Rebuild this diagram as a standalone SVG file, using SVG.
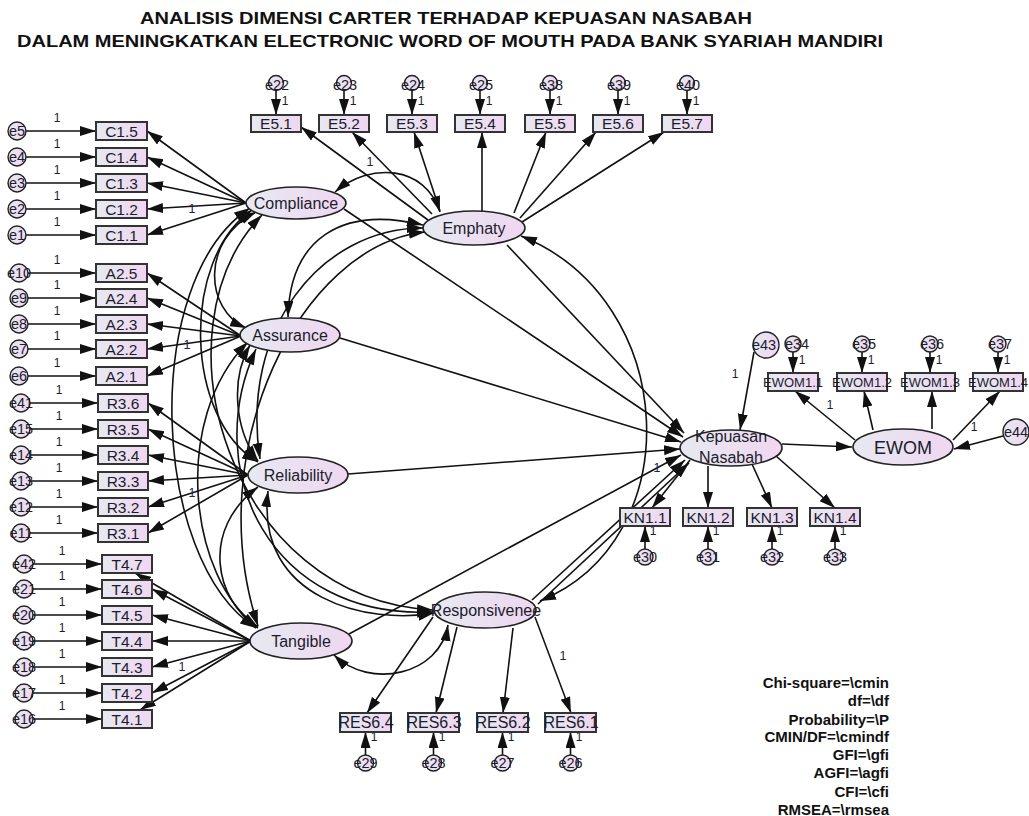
<svg xmlns="http://www.w3.org/2000/svg" width="1029" height="816" viewBox="0 0 1029 816">
<defs>
<linearGradient id="g" x1="0" y1="0" x2="1" y2="0"><stop offset="0" stop-color="#e6e9f1"/><stop offset="1" stop-color="#efd7f0"/></linearGradient>
<marker id="a" markerUnits="userSpaceOnUse" markerWidth="17" markerHeight="11" refX="16" refY="5" orient="auto-start-reverse"><path d="M0,0 L16,5 L0,10 z" fill="#111"/></marker>
</defs>
<style>
.ind{fill:url(#g);stroke:#333;stroke-width:2}
.lat{fill:url(#g);stroke:#222;stroke-width:1.6}
.err{fill:url(#g);stroke:#222;stroke-width:1.4}
.t{font-family:"Liberation Sans",Arial,sans-serif;fill:#1c1c2c;text-anchor:middle}
.it{font-size:15.5px}
.lt{font-size:16px}
.et{font-size:14.5px}
.one{font-size:12px}
.w1{font-size:12.5px;fill:#222244}
.ln{stroke:#111;stroke-width:1.6;fill:none;marker-end:url(#a)}
.cv{stroke:#111;stroke-width:1.6;fill:none;marker-start:url(#a);marker-end:url(#a)}
.ttl{font-family:"Liberation Sans",Arial,sans-serif;font-weight:bold;font-size:17px;text-anchor:middle;fill:#111}
.fit{font-family:"Liberation Sans",Arial,sans-serif;font-weight:bold;font-size:15px;text-anchor:end;fill:#111}
.ew{font-size:13px}
</style>
<rect width="1029" height="816" fill="#fff"/>
<text class="ttl" x="446" y="24" textLength="612" lengthAdjust="spacingAndGlyphs">ANALISIS DIMENSI CARTER TERHADAP KEPUASAN NASABAH</text>
<text class="ttl" x="450" y="47" textLength="866" lengthAdjust="spacingAndGlyphs">DALAM MENINGKATKAN ELECTRONIC WORD OF MOUTH PADA BANK SYARIAH MANDIRI</text>

<g id="connectors">
<path class="ln" d="M25.5,131 L96,131"/><path class="ln" d="M25.5,157 L96,157"/><path class="ln" d="M25.5,183 L96,183"/><path class="ln" d="M25.5,209 L96,209"/><path class="ln" d="M25.5,235 L96,235"/>
<path class="ln" d="M27.5,273 L96,273"/><path class="ln" d="M27.5,298 L96,298"/><path class="ln" d="M27.5,324 L96,324"/><path class="ln" d="M27.5,349 L96,349"/><path class="ln" d="M27.5,376 L96,376"/>
<path class="ln" d="M29.5,403 L98,403"/><path class="ln" d="M29.5,429 L98,429"/><path class="ln" d="M29.5,455 L98,455"/><path class="ln" d="M29.5,481 L98,481"/><path class="ln" d="M29.5,507 L98,507"/><path class="ln" d="M29.5,533 L98,533"/>
<path class="ln" d="M32.5,564 L102,564"/><path class="ln" d="M32.5,589 L102,589"/><path class="ln" d="M32.5,615 L102,615"/><path class="ln" d="M32.5,641 L102,641"/><path class="ln" d="M32.5,667 L102,667"/><path class="ln" d="M32.5,693 L102,693"/><path class="ln" d="M32.5,719 L102,719"/>
<path class="ln" d="M276,90.5 L276,115"/><path class="ln" d="M344,90.5 L344,115"/><path class="ln" d="M412,90.5 L412,115"/><path class="ln" d="M480,90.5 L480,115"/><path class="ln" d="M550,90.5 L550,115"/><path class="ln" d="M618,90.5 L618,115"/><path class="ln" d="M687,90.5 L687,115"/>
<path class="ln" d="M793,352 L793,373"/><path class="ln" d="M862,352 L862,373"/><path class="ln" d="M930,352 L930,373"/><path class="ln" d="M998,352 L998,373"/>
<path class="ln" d="M754,352 L740,430"/>
<path class="ln" d="M1003,436 L954,449"/>
<path class="ln" d="M645,549 L645,526"/><path class="ln" d="M708,549 L708,526"/><path class="ln" d="M772,549 L772,526"/><path class="ln" d="M835,549 L835,526"/>
<path class="ln" d="M365.5,755 L365.5,732"/><path class="ln" d="M433.5,755 L433.5,732"/><path class="ln" d="M502.5,755 L502.5,732"/><path class="ln" d="M570.5,755 L570.5,732"/>
<path class="ln" d="M246,203 L147,131"/><path class="ln" d="M246,203 L147,157"/><path class="ln" d="M246,203 L147,183"/><path class="ln" d="M246,203 L147,209"/><path class="ln" d="M246,203 L147,235"/>
<path class="ln" d="M241,336 L147,273"/><path class="ln" d="M241,336 L147,298"/><path class="ln" d="M241,336 L147,324"/><path class="ln" d="M241,336 L147,349"/><path class="ln" d="M241,336 L147,376"/>
<path class="ln" d="M248,475 L148,403"/><path class="ln" d="M248,475 L148,429"/><path class="ln" d="M248,475 L148,455"/><path class="ln" d="M248,475 L148,481"/><path class="ln" d="M248,475 L148,507"/><path class="ln" d="M248,475 L148,533"/>
<path class="ln" d="M251,641 L135,573"/><path class="ln" d="M251,641 L152,589"/><path class="ln" d="M251,641 L152,615"/><path class="ln" d="M251,641 L152,641"/><path class="ln" d="M251,641 L152,667"/><path class="ln" d="M251,641 L152,693"/><path class="ln" d="M251,641 L140,710"/>
<path class="ln" d="M428,220 L301,127"/><path class="ln" d="M432,214 L352,132"/><path class="ln" d="M440,211 L414,132"/><path class="ln" d="M482,211 L482,132"/><path class="ln" d="M514,213 L546,132"/><path class="ln" d="M520,218 L596,132"/><path class="ln" d="M522,222 L664,132"/>
<path class="ln" d="M433,617 L367,713"/><path class="ln" d="M457,627 L436,713"/><path class="ln" d="M513,628 L503,713"/><path class="ln" d="M535,617 L571,713"/>
<path class="ln" d="M344,209 L683,437"/>
<path class="ln" d="M507,245 L684,433"/>
<path class="ln" d="M340,338 L681,442"/>
<path class="ln" d="M348,474 L680,449"/>
<path class="ln" d="M349,634 L681,455"/>
<path class="ln" d="M532,600 L685,460"/>
<path class="ln" d="M538,604 L689,463"/>
<path class="ln" d="M690,460 L652,508"/><path class="ln" d="M708,466 L708,508"/><path class="ln" d="M752,464 L772,508"/><path class="ln" d="M776,456 L835,508"/>
<path class="ln" d="M782,444 L852,447"/>
<path class="ln" d="M855,440 L795,391"/><path class="ln" d="M873,430 L864,391"/><path class="ln" d="M932,429 L932,391"/><path class="ln" d="M953,440 L1000,391"/>
<path class="cv" d="M335,192 C370,162 425,165 440,212"/>
<path class="cv" d="M423,225 C340,205 290,240 288,317"/>
<path class="cv" d="M423,228 C320,228 240,330 260,459"/>
<path class="cv" d="M425,232 C300,245 200,450 258,626"/>
<path class="cv" d="M521,236 C680,300 690,540 540,601"/>
<path class="cv" d="M256,212 C200,240 205,310 246,328"/>
<path class="cv" d="M252,210 C180,260 185,420 258,462"/>
<path class="cv" d="M250,208 C140,280 150,560 256,628"/>
<path class="cv" d="M262,215 C150,330 230,600 433,610"/>
<path class="cv" d="M250,345 C230,380 235,430 258,461"/>
<path class="cv" d="M248,342 C170,420 190,580 258,627"/>
<path class="cv" d="M256,349 C200,470 270,620 433,612"/>
<path class="cv" d="M258,487 C200,530 215,600 258,628"/>
<path class="cv" d="M268,491 C255,600 370,625 434,613"/>
<path class="cv" d="M334,655 C370,690 440,675 448,625"/>
</g>

<g id="weights" class="t">
<text class="one" x="57" y="122">1</text><text class="one" x="57" y="148">1</text><text class="one" x="57" y="174">1</text><text class="one" x="57" y="200">1</text><text class="one" x="57" y="226">1</text>
<text class="one" x="57" y="264">1</text><text class="one" x="57" y="289">1</text><text class="one" x="57" y="315">1</text><text class="one" x="57" y="340">1</text><text class="one" x="57" y="367">1</text>
<text class="one" x="59" y="394">1</text><text class="one" x="59" y="420">1</text><text class="one" x="59" y="446">1</text><text class="one" x="59" y="472">1</text><text class="one" x="59" y="498">1</text><text class="one" x="59" y="524">1</text>
<text class="one" x="62" y="555">1</text><text class="one" x="62" y="580">1</text><text class="one" x="62" y="606">1</text><text class="one" x="62" y="632">1</text><text class="one" x="62" y="658">1</text><text class="one" x="62" y="684">1</text><text class="one" x="62" y="710">1</text>
<text class="one" x="285" y="105">1</text><text class="one" x="353" y="105">1</text><text class="one" x="421" y="105">1</text><text class="one" x="489" y="105">1</text><text class="one" x="559" y="105">1</text><text class="one" x="627" y="105">1</text><text class="one" x="696" y="105">1</text>
<text class="one" x="802" y="364">1</text><text class="one" x="871" y="364">1</text><text class="one" x="939" y="364">1</text><text class="one" x="1007" y="364">1</text>
<text class="one" x="653" y="535">1</text><text class="one" x="716" y="535">1</text><text class="one" x="780" y="535">1</text><text class="one" x="843" y="535">1</text>
<text class="one" x="374" y="741">1</text><text class="one" x="442" y="741">1</text><text class="one" x="511" y="741">1</text><text class="one" x="579" y="741">1</text>
<text class="one" x="735" y="378">1</text>
<text class="one" x="974" y="431">1</text>
<text class="w1" x="192" y="213">1</text>
<text class="w1" x="187" y="349">1</text>
<text class="w1" x="192" y="497">1</text>
<text class="w1" x="182" y="671">1</text>
<text class="w1" x="370" y="166">1</text>
<text class="w1" x="830" y="409">1</text>
<text class="w1" x="563" y="660">1</text>
<text class="w1" x="657" y="472">1</text>
</g>

<g id="e5"><circle class="err" cx="17" cy="131" r="9"/><text class="t et" x="17" y="136">e5</text></g>
<g id="e4"><circle class="err" cx="17" cy="157" r="9"/><text class="t et" x="17" y="162">e4</text></g>
<g id="e3"><circle class="err" cx="17" cy="183" r="9"/><text class="t et" x="17" y="188">e3</text></g>
<g id="e2"><circle class="err" cx="17" cy="209" r="9"/><text class="t et" x="17" y="214">e2</text></g>
<g id="e1"><circle class="err" cx="17" cy="235" r="9"/><text class="t et" x="17" y="240">e1</text></g>
<g id="C1_5"><rect class="ind" x="96" y="122" width="51" height="18"/><text class="t it" x="121.5" y="136.5">C1.5</text></g>
<g id="C1_4"><rect class="ind" x="96" y="148" width="51" height="18"/><text class="t it" x="121.5" y="162.5">C1.4</text></g>
<g id="C1_3"><rect class="ind" x="96" y="174" width="51" height="18"/><text class="t it" x="121.5" y="188.5">C1.3</text></g>
<g id="C1_2"><rect class="ind" x="96" y="200" width="51" height="18"/><text class="t it" x="121.5" y="214.5">C1.2</text></g>
<g id="C1_1"><rect class="ind" x="96" y="226" width="51" height="18"/><text class="t it" x="121.5" y="240.5">C1.1</text></g>

<g id="e10"><circle class="err" cx="19" cy="273" r="9"/><text class="t et" x="19" y="278">e10</text></g>
<g id="e9"><circle class="err" cx="19" cy="298" r="9"/><text class="t et" x="19" y="303">e9</text></g>
<g id="e8"><circle class="err" cx="19" cy="324" r="9"/><text class="t et" x="19" y="329">e8</text></g>
<g id="e7"><circle class="err" cx="19" cy="349" r="9"/><text class="t et" x="19" y="354">e7</text></g>
<g id="e6"><circle class="err" cx="19" cy="376" r="9"/><text class="t et" x="19" y="381">e6</text></g>
<g id="A2_5"><rect class="ind" x="96" y="264" width="51" height="18"/><text class="t it" x="121.5" y="278.5">A2.5</text></g>
<g id="A2_4"><rect class="ind" x="96" y="289" width="51" height="18"/><text class="t it" x="121.5" y="303.5">A2.4</text></g>
<g id="A2_3"><rect class="ind" x="96" y="315" width="51" height="18"/><text class="t it" x="121.5" y="329.5">A2.3</text></g>
<g id="A2_2"><rect class="ind" x="96" y="340" width="51" height="18"/><text class="t it" x="121.5" y="354.5">A2.2</text></g>
<g id="A2_1"><rect class="ind" x="96" y="367" width="51" height="18"/><text class="t it" x="121.5" y="381.5">A2.1</text></g>

<g id="e41"><circle class="err" cx="21" cy="403" r="9"/><text class="t et" x="21" y="408">e41</text></g>
<g id="e15"><circle class="err" cx="21" cy="429" r="9"/><text class="t et" x="21" y="434">e15</text></g>
<g id="e14"><circle class="err" cx="21" cy="455" r="9"/><text class="t et" x="21" y="460">e14</text></g>
<g id="e13"><circle class="err" cx="21" cy="481" r="9"/><text class="t et" x="21" y="486">e13</text></g>
<g id="e12"><circle class="err" cx="21" cy="507" r="9"/><text class="t et" x="21" y="512">e12</text></g>
<g id="e11"><circle class="err" cx="21" cy="533" r="9"/><text class="t et" x="21" y="538">e11</text></g>
<g id="R3_6"><rect class="ind" x="98" y="394" width="50" height="18"/><text class="t it" x="123" y="408.5">R3.6</text></g>
<g id="R3_5"><rect class="ind" x="98" y="420" width="50" height="18"/><text class="t it" x="123" y="434.5">R3.5</text></g>
<g id="R3_4"><rect class="ind" x="98" y="446" width="50" height="18"/><text class="t it" x="123" y="460.5">R3.4</text></g>
<g id="R3_3"><rect class="ind" x="98" y="472" width="50" height="18"/><text class="t it" x="123" y="486.5">R3.3</text></g>
<g id="R3_2"><rect class="ind" x="98" y="498" width="50" height="18"/><text class="t it" x="123" y="512.5">R3.2</text></g>
<g id="R3_1"><rect class="ind" x="98" y="524" width="50" height="18"/><text class="t it" x="123" y="538.5">R3.1</text></g>

<g id="e42"><circle class="err" cx="24" cy="564" r="9"/><text class="t et" x="24" y="569">e42</text></g>
<g id="e21"><circle class="err" cx="24" cy="589" r="9"/><text class="t et" x="24" y="594">e21</text></g>
<g id="e20"><circle class="err" cx="24" cy="615" r="9"/><text class="t et" x="24" y="620">e20</text></g>
<g id="e19"><circle class="err" cx="24" cy="641" r="9"/><text class="t et" x="24" y="646">e19</text></g>
<g id="e18"><circle class="err" cx="24" cy="667" r="9"/><text class="t et" x="24" y="672">e18</text></g>
<g id="e17"><circle class="err" cx="24" cy="693" r="9"/><text class="t et" x="24" y="698">e17</text></g>
<g id="e16"><circle class="err" cx="24" cy="719" r="9"/><text class="t et" x="24" y="724">e16</text></g>
<g id="T4_7"><rect class="ind" x="102" y="555" width="50" height="18"/><text class="t it" x="127" y="569.5">T4.7</text></g>
<g id="T4_6"><rect class="ind" x="102" y="580" width="50" height="18"/><text class="t it" x="127" y="594.5">T4.6</text></g>
<g id="T4_5"><rect class="ind" x="102" y="606" width="50" height="18"/><text class="t it" x="127" y="620.5">T4.5</text></g>
<g id="T4_4"><rect class="ind" x="102" y="632" width="50" height="18"/><text class="t it" x="127" y="646.5">T4.4</text></g>
<g id="T4_3"><rect class="ind" x="102" y="658" width="50" height="18"/><text class="t it" x="127" y="672.5">T4.3</text></g>
<g id="T4_2"><rect class="ind" x="102" y="684" width="50" height="18"/><text class="t it" x="127" y="698.5">T4.2</text></g>
<g id="T4_1"><rect class="ind" x="102" y="710" width="50" height="18"/><text class="t it" x="127" y="724.5">T4.1</text></g>

<g id="e22"><circle class="err" cx="276" cy="83" r="7.5"/><text class="t et" x="277" y="90">e22</text></g>
<g id="e23"><circle class="err" cx="344" cy="83" r="7.5"/><text class="t et" x="345" y="90">e23</text></g>
<g id="e24"><circle class="err" cx="412" cy="83" r="7.5"/><text class="t et" x="413" y="90">e24</text></g>
<g id="e25"><circle class="err" cx="480" cy="83" r="7.5"/><text class="t et" x="481" y="90">e25</text></g>
<g id="e38"><circle class="err" cx="550" cy="83" r="7.5"/><text class="t et" x="551" y="90">e38</text></g>
<g id="e39"><circle class="err" cx="618" cy="83" r="7.5"/><text class="t et" x="619" y="90">e39</text></g>
<g id="e40"><circle class="err" cx="687" cy="83" r="7.5"/><text class="t et" x="688" y="90">e40</text></g>
<g id="E5_1"><rect class="ind" x="251" y="115" width="50" height="17"/><text class="t it" x="276" y="129">E5.1</text></g>
<g id="E5_2"><rect class="ind" x="319" y="115" width="50" height="17"/><text class="t it" x="344" y="129">E5.2</text></g>
<g id="E5_3"><rect class="ind" x="387" y="115" width="50" height="17"/><text class="t it" x="412" y="129">E5.3</text></g>
<g id="E5_4"><rect class="ind" x="455" y="115" width="50" height="17"/><text class="t it" x="480" y="129">E5.4</text></g>
<g id="E5_5"><rect class="ind" x="525" y="115" width="50" height="17"/><text class="t it" x="550" y="129">E5.5</text></g>
<g id="E5_6"><rect class="ind" x="593" y="115" width="50" height="17"/><text class="t it" x="618" y="129">E5.6</text></g>
<g id="E5_7"><rect class="ind" x="662" y="115" width="50" height="17"/><text class="t it" x="687" y="129">E5.7</text></g>

<g id="Compliance"><ellipse class="lat" cx="296" cy="203" rx="50" ry="16"/><text class="t lt" x="296" y="209">Compliance</text></g>
<g id="Emphaty"><ellipse class="lat" cx="474" cy="228" rx="51" ry="17"/><text class="t lt" x="474" y="234">Emphaty</text></g>
<g id="Assurance"><ellipse class="lat" cx="290" cy="335" rx="50" ry="17"/><text class="t lt" x="290" y="341">Assurance</text></g>
<g id="Reliability"><ellipse class="lat" cx="298" cy="475" rx="50" ry="18"/><text class="t lt" x="298" y="481">Reliability</text></g>
<g id="Tangible"><ellipse class="lat" cx="301" cy="641" rx="51" ry="18"/><text class="t lt" x="301" y="647">Tangible</text></g>
<g id="Responsivenee"><ellipse class="lat" cx="485" cy="610" rx="51" ry="18"/><text class="t lt" x="486" y="616">Responsivenee</text></g>
<g id="Kepuasan"><ellipse class="lat" cx="731" cy="448" rx="51" ry="18"/><text class="t lt" x="731" y="442">Kepuasan</text><text class="t lt" x="731" y="463">Nasabah</text></g>
<g id="EWOM"><ellipse class="lat" cx="903" cy="447" rx="50" ry="18"/><text class="t" style="font-size:18px" x="903" y="454">EWOM</text></g>

<g id="e43"><circle class="err" cx="766" cy="345" r="13"/><text class="t et" x="764" y="350">e43</text></g>
<g id="e44"><circle class="err" cx="1016" cy="432" r="13"/><text class="t et" x="1016" y="437">e44</text></g>
<g id="e34"><circle class="err" cx="793" cy="344" r="8"/><text class="t et" x="797" y="349">e34</text></g>
<g id="e35"><circle class="err" cx="862" cy="344" r="8"/><text class="t et" x="864" y="349">e35</text></g>
<g id="e36"><circle class="err" cx="930" cy="344" r="8"/><text class="t et" x="932" y="349">e36</text></g>
<g id="e37"><circle class="err" cx="998" cy="344" r="8"/><text class="t et" x="1000" y="349">e37</text></g>
<g id="EWOM1_1"><rect class="ind" x="768" y="373" width="50" height="18"/><text class="t ew" x="793" y="386.5">EWOM1.1</text></g>
<g id="EWOM1_2"><rect class="ind" x="837" y="373" width="50" height="18"/><text class="t ew" x="862" y="386.5">EWOM1.2</text></g>
<g id="EWOM1_3"><rect class="ind" x="905" y="373" width="50" height="18"/><text class="t ew" x="930" y="386.5">EWOM1.3</text></g>
<g id="EWOM1_4"><rect class="ind" x="973" y="373" width="50" height="18"/><text class="t ew" x="998" y="386.5">EWOM1.4</text></g>

<g id="KN1_1"><rect class="ind" x="620" y="508" width="50" height="18"/><text class="t it" x="645" y="523">KN1.1</text></g>
<g id="KN1_2"><rect class="ind" x="683" y="508" width="50" height="18"/><text class="t it" x="708" y="523">KN1.2</text></g>
<g id="KN1_3"><rect class="ind" x="747" y="508" width="50" height="18"/><text class="t it" x="772" y="523">KN1.3</text></g>
<g id="KN1_4"><rect class="ind" x="810" y="508" width="50" height="18"/><text class="t it" x="835" y="523">KN1.4</text></g>
<g id="e30"><circle class="err" cx="645" cy="557" r="8"/><text class="t et" x="645" y="562">e30</text></g>
<g id="e31"><circle class="err" cx="708" cy="557" r="8"/><text class="t et" x="708" y="562">e31</text></g>
<g id="e32"><circle class="err" cx="772" cy="557" r="8"/><text class="t et" x="772" y="562">e32</text></g>
<g id="e33"><circle class="err" cx="835" cy="557" r="8"/><text class="t et" x="835" y="562">e33</text></g>

<g id="RES6_4"><rect class="ind" x="340" y="713" width="51" height="19"/><text class="t lt" x="366" y="728">RES6.4</text></g>
<g id="RES6_3"><rect class="ind" x="408" y="713" width="51" height="19"/><text class="t lt" x="434" y="728">RES6.3</text></g>
<g id="RES6_2"><rect class="ind" x="477" y="713" width="51" height="19"/><text class="t lt" x="503" y="728">RES6.2</text></g>
<g id="RES6_1"><rect class="ind" x="545" y="713" width="51" height="19"/><text class="t lt" x="571" y="728">RES6.1</text></g>
<g id="e29"><circle class="err" cx="365.5" cy="763" r="8"/><text class="t et" x="365.5" y="768">e29</text></g>
<g id="e28"><circle class="err" cx="433.5" cy="763" r="8"/><text class="t et" x="433.5" y="768">e28</text></g>
<g id="e27"><circle class="err" cx="502.5" cy="763" r="8"/><text class="t et" x="502.5" y="768">e27</text></g>
<g id="e26"><circle class="err" cx="570.5" cy="763" r="8"/><text class="t et" x="570.5" y="768">e26</text></g>

<g id="fit">
<text class="fit" x="889" y="688">Chi-square=\cmin</text>
<text class="fit" x="889" y="706">df=\df</text>
<text class="fit" x="889" y="725">Probability=\P</text>
<text class="fit" x="889" y="742">CMIN/DF=\cmindf</text>
<text class="fit" x="889" y="760">GFI=\gfi</text>
<text class="fit" x="889" y="778">AGFI=\agfi</text>
<text class="fit" x="889" y="797">CFI=\cfi</text>
<text class="fit" x="889" y="815">RMSEA=\rmsea</text>
</g>
</svg>
